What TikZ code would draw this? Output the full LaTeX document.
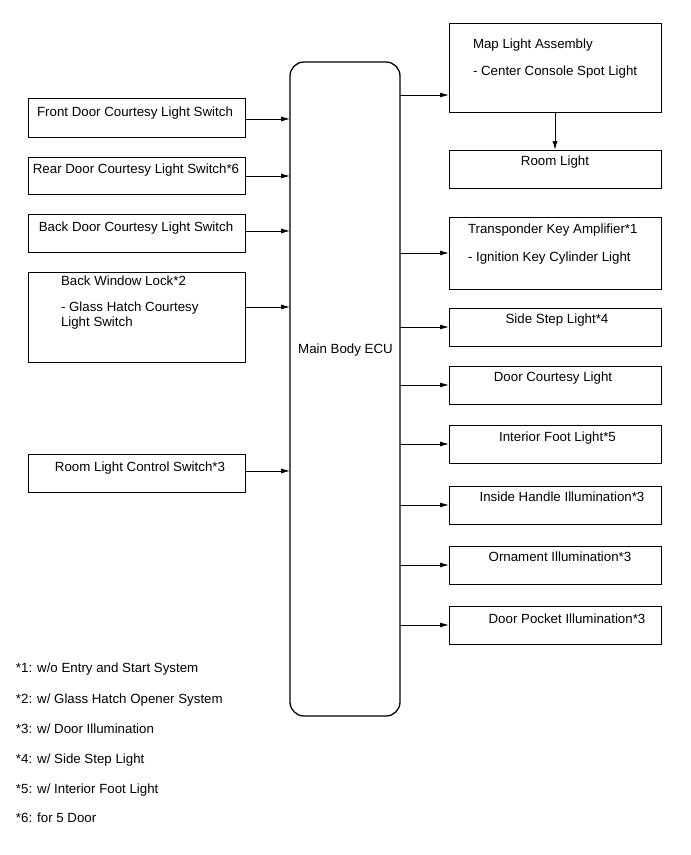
\documentclass[tikz,border=0pt]{standalone}
\usepackage{fontspec}
\setmainfont{Liberation Sans}
\usetikzlibrary{arrows.meta}
\begin{document}
\begin{tikzpicture}[x=1pt,y=-1pt,
  every node/.style={inner sep=0pt,outer sep=0pt,font=\fontsize{13.3}{16}\selectfont},
  box/.style={draw,line width=1pt,minimum width=#1,anchor=north west},
  ecubox/.style={draw,line width=1.3pt,rounded corners=14pt,minimum width=110pt,minimum height=654pt,anchor=north west},
  txt/.style={anchor=base west},
  ctxt/.style={anchor=base},
  arr/.style={line width=0.9pt,-{Latex[length=9pt,width=5pt]}}
]
\useasboundingbox (0,0) rectangle (691,855);
% main ECU
\node[ecubox] (ecu) at (290,62) {};
\node[ctxt] (ecut) at (345.5,353) {Main Body ECU};
% left boxes
\node[box=217pt,minimum height=39pt] (fd) at (28,98) {};
\node[ctxt] (fdt) at (135,116) {Front Door Courtesy Light Switch};
\node[box=217pt,minimum height=37pt] (rd) at (28,157) {};
\node[ctxt] (rdt) at (136,173) {Rear Door Courtesy Light Switch*6};
\node[box=217pt,minimum height=38pt] (bd) at (28,214) {};
\node[ctxt] (bdt) at (136,231) {Back Door Courtesy Light Switch};
\node[box=217pt,minimum height=90pt] (bw) at (28,272) {};
\node[txt] (bwt1) at (61,285) {Back Window Lock*2};
\node[txt] (bwt2) at (61,311) {- Glass Hatch Courtesy};
\node[txt] (bwt3) at (61,326) {Light Switch};
\node[box=217pt,minimum height=38pt] (rc) at (28,454) {};
\node[ctxt] (rct) at (140,471) {Room Light Control Switch*3};
% left arrows
\draw[arr] (fd.east |- 0,119) -- (ecu.west |- 0,119);
\draw[arr] (rd.east |- 0,176) -- (ecu.west |- 0,176);
\draw[arr] (bd.east |- 0,231) -- (ecu.west |- 0,231);
\draw[arr] (bw.east |- 0,307) -- (ecu.west |- 0,307);
\draw[arr] (rc.east |- 0,471) -- (ecu.west |- 0,471);
% right boxes
\node[box=212pt,minimum height=89pt] (ml) at (449,23) {};
\node[txt] (mlt1) at (473,48) {Map Light Assembly};
\node[txt] (mlt2) at (473,75) {- Center Console Spot Light};
\node[box=212pt,minimum height=38pt] (rl) at (449,150) {};
\node[ctxt] (rlt) at (555,165) {Room Light};
\node[box=212pt,minimum height=72pt] (tk) at (449,217) {};
\node[txt] (tkt1) at (468,233) {Transponder Key Amplifier*1};
\node[txt] (tkt2) at (468,261) {- Ignition Key Cylinder Light};
\node[box=212pt,minimum height=38pt] (ss) at (449,308) {};
\node[ctxt] (sst) at (557,323) {Side Step Light*4};
\node[box=212pt,minimum height=38pt] (dc) at (449,366) {};
\node[ctxt] (dct) at (553,381) {Door Courtesy Light};
\node[box=212pt,minimum height=38pt] (if) at (449,425) {};
\node[ctxt] (ift) at (557.5,441) {Interior Foot Light*5};
\node[box=212pt,minimum height=38pt] (ih) at (449,486) {};
\node[ctxt] (iht) at (562,501) {Inside Handle Illumination*3};
\node[box=212pt,minimum height=38pt] (oi) at (449,546) {};
\node[ctxt] (oit) at (560,561) {Ornament Illumination*3};
\node[box=212pt,minimum height=38pt] (dp) at (449,606) {};
\node[ctxt] (dpt) at (567,623) {Door Pocket Illumination*3};
% right arrows
\draw[arr] (ecu.east |- 0,95) -- (ml.west |- 0,95);
\draw[arr] (ml.south) -- (rl.north);
\draw[arr] (ecu.east |- tk.west) -- (tk.west);
\draw[arr] (ecu.east |- ss.west) -- (ss.west);
\draw[arr] (ecu.east |- dc.west) -- (dc.west);
\draw[arr] (ecu.east |- if.west) -- (if.west);
\draw[arr] (ecu.east |- ih.west) -- (ih.west);
\draw[arr] (ecu.east |- oi.west) -- (oi.west);
\draw[arr] (ecu.east |- dp.west) -- (dp.west);
% footnotes
\node[txt] (n1) at (16,672) {*1: w/o Entry and Start System};
\node[txt] (n2) at (16,703) {*2: w/ Glass Hatch Opener System};
\node[txt] (n3) at (16,733) {*3: w/ Door Illumination};
\node[txt] (n4) at (16,763) {*4: w/ Side Step Light};
\node[txt] (n5) at (16,793) {*5: w/ Interior Foot Light};
\node[txt] (n6) at (16,822) {*6: for 5 Door};
\end{tikzpicture}
\end{document}
